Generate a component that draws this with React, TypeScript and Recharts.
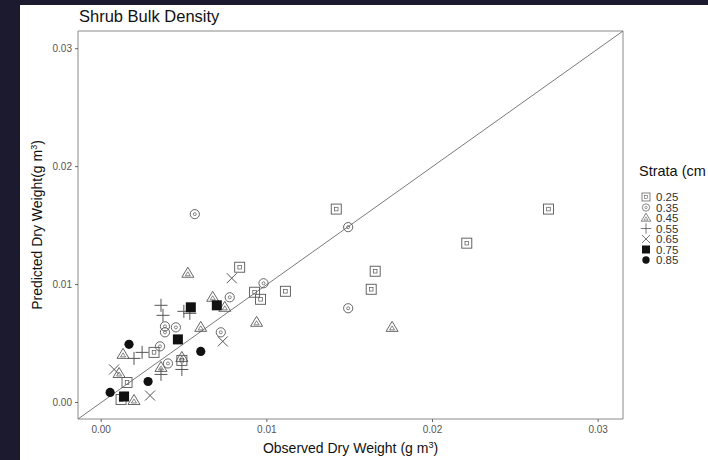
import React from "react";
import {
  ScatterChart,
  Scatter,
  XAxis,
  YAxis,
  ReferenceLine,
  ReferenceArea,
  Legend,
} from "recharts";

// ---- data (observed x, predicted y) per stratum ----
const strata25 = [
  { x: 0.01419, y: 0.0164 },
  { x: 0.027, y: 0.0164 },
  { x: 0.02207, y: 0.01351 },
  { x: 0.01654, y: 0.01113 },
  { x: 0.0163, y: 0.0096 },
  { x: 0.01112, y: 0.00943 },
  { x: 0.00926, y: 0.00935 },
  { x: 0.00962, y: 0.00875 },
  { x: 0.00836, y: 0.01147 },
  { x: 0.00319, y: 0.00425 },
  { x: 0.00156, y: 0.0017 },
  { x: 0.0012, y: 0.00025 },
  { x: 0.00487, y: 0.00357 },
];
const strata35 = [
  { x: 0.00565, y: 0.01597 },
  { x: 0.01491, y: 0.01487 },
  { x: 0.01491, y: 0.00799 },
  { x: 0.0098, y: 0.01011 },
  { x: 0.00776, y: 0.00892 },
  { x: 0.00385, y: 0.00646 },
  { x: 0.00451, y: 0.00637 },
  { x: 0.00385, y: 0.00595 },
  { x: 0.00722, y: 0.00595 },
  { x: 0.00355, y: 0.00476 },
  { x: 0.00403, y: 0.00331 },
];
const strata45 = [
  { x: 0.01756, y: 0.00637 },
  { x: 0.00523, y: 0.01096 },
  { x: 0.00673, y: 0.00892 },
  { x: 0.00746, y: 0.00807 },
  { x: 0.00601, y: 0.00637 },
  { x: 0.00938, y: 0.0068 },
  { x: 0.00132, y: 0.00408 },
  { x: 0.00487, y: 0.00382 },
  { x: 0.00361, y: 0.00297 },
  { x: 0.00108, y: 0.00246 },
  { x: 0.00198, y: 0.00017 },
];
const strata55 = [
  { x: 0.00361, y: 0.00824 },
  { x: 0.00373, y: 0.00739 },
  { x: 0.00535, y: 0.00756 },
  { x: 0.00499, y: 0.00773 },
  { x: 0.00247, y: 0.00425 },
  { x: 0.00198, y: 0.00374 },
  { x: 0.00487, y: 0.0028 },
  { x: 0.00361, y: 0.00238 },
];
const strata65 = [
  { x: 0.00788, y: 0.01054 },
  { x: 0.00734, y: 0.00518 },
  { x: 0.00078, y: 0.0028 },
  { x: 0.00295, y: 0.00059 },
];
const strata75 = [
  { x: 0.00541, y: 0.00807 },
  { x: 0.00698, y: 0.00824 },
  { x: 0.00463, y: 0.00535 },
  { x: 0.00138, y: 0.00051 },
];
const strata85 = [
  { x: 0.00168, y: 0.00493 },
  { x: 0.00601, y: 0.00433 },
  { x: 0.00283, y: 0.00178 },
  { x: 0.00054, y: 0.00085 },
];

const strataLabels = ["0.25", "0.35", "0.45", "0.55", "0.65", "0.75", "0.85"];
const legendTitle = "Strata (cm";
const axisTicks = [0, 0.01, 0.02, 0.03];
const DOMAIN: [number, number] = [-0.0014, 0.0315];

const FONT = "'Liberation Sans', Arial, Helvetica, sans-serif";
const OPEN = "#555555";
const FILL = "#111111";

// ---- marker shapes ----
const SquareMark = ({ cx, cy }: any) => (
  <g>
    <rect x={cx - 5} y={cy - 5} width={10} height={10} fill="none" stroke={OPEN} strokeWidth={0.9} />
    <rect x={cx - 1.8} y={cy - 1.8} width={3.6} height={3.6} fill="none" stroke={OPEN} strokeWidth={0.7} />
  </g>
);
const CircleMark = ({ cx, cy }: any) => (
  <g>
    <circle cx={cx} cy={cy} r={4.6} fill="none" stroke={OPEN} strokeWidth={0.9} />
    <circle cx={cx} cy={cy} r={1.5} fill="none" stroke={OPEN} strokeWidth={0.7} />
  </g>
);
const TriangleMark = ({ cx, cy }: any) => (
  <g>
    <path d={`M${cx},${cy - 6} L${cx + 6},${cy + 4} L${cx - 6},${cy + 4} Z`} fill="none" stroke={OPEN} strokeWidth={0.9} />
    <path d={`M${cx},${cy - 1.5} L${cx + 2.5},${cy + 2.5} L${cx - 2.5},${cy + 2.5} Z`} fill="none" stroke={OPEN} strokeWidth={0.7} />
  </g>
);
const PlusMark = ({ cx, cy }: any) => (
  <path d={`M${cx - 6.5},${cy} L${cx + 6.5},${cy} M${cx},${cy - 6.5} L${cx},${cy + 6.5}`} stroke={OPEN} strokeWidth={1} fill="none" />
);
const CrossMark = ({ cx, cy }: any) => (
  <path d={`M${cx - 5},${cy - 5} L${cx + 5},${cy + 5} M${cx - 5},${cy + 5} L${cx + 5},${cy - 5}`} stroke={OPEN} strokeWidth={1} fill="none" />
);
const FilledSquareMark = ({ cx, cy }: any) => (
  <rect x={cx - 5} y={cy - 5} width={10} height={10} fill={FILL} />
);
const FilledCircleMark = ({ cx, cy }: any) => <circle cx={cx} cy={cy} r={4.6} fill={FILL} />;

const markers = [SquareMark, CircleMark, TriangleMark, PlusMark, CrossMark, FilledSquareMark, FilledCircleMark];
const seriesData = [strata25, strata35, strata45, strata55, strata65, strata75, strata85];

const LegendContent = () => (
  <div style={{ fontFamily: FONT, whiteSpace: "nowrap" }}>
    <div style={{ fontSize: 14.5, color: "#111", height: 28, lineHeight: "17px" }}>{legendTitle}</div>
    <svg width={69} height={80}>
      {strataLabels.map((lab, i) => {
        const M = markers[i];
        const cy = 6 + i * 10.5;
        return (
          <g key={lab}>
            <g transform={`translate(7,${cy}) scale(0.8) translate(-7,${-cy})`}>
              <M cx={7} cy={cy} />
            </g>
            <text x={17} y={cy + 4} fontSize={11.5} fill="#333" fontFamily={FONT}>
              {lab}
            </text>
          </g>
        );
      })}
    </svg>
  </div>
);

const XTitle = ({ viewBox }: any) => {
  const cx = viewBox.x + viewBox.width / 2;
  return (
    <text x={cx} y={453} textAnchor="middle" fontSize={14} fill="#111" fontFamily={FONT}>
      Observed Dry Weight (g m
      <tspan dy={-5} fontSize={9}>3</tspan>
      <tspan dy={5}>)</tspan>
    </text>
  );
};

const YTitle = ({ viewBox }: any) => {
  const cy = viewBox.y + viewBox.height / 2;
  return (
    <text
      x={0}
      y={0}
      transform={`translate(42,${cy}) rotate(-90)`}
      textAnchor="middle"
      fontSize={14}
      fill="#111"
      fontFamily={FONT}
    >
      Predicted Dry Weight(g m
      <tspan dy={-5} fontSize={9}>3</tspan>
      <tspan dy={5}>)</tspan>
    </text>
  );
};

export default function App() {
  return (
    <div
      style={{
        position: "absolute",
        left: 0,
        top: 0,
        width: 708,
        height: 460,
        background: "#1b1a2e",
        overflow: "hidden",
      }}
    >
      <div
        style={{
          position: "absolute",
          left: 20,
          top: 5,
          width: 688,
          height: 455,
          background: "#ffffff",
        }}
      />
      <div
        style={{
          position: "absolute",
          left: 79,
          top: 7,
          fontFamily: FONT,
          fontSize: 16.5,
          color: "#111",
          whiteSpace: "nowrap",
        }}
      >
        Shrub Bulk Density
      </div>
      <div style={{ position: "absolute", left: 0, top: 0 }}>
        <ScatterChart width={708} height={460} margin={{ top: 31, right: 85, bottom: 11, left: 28 }}>
          <XAxis
            type="number"
            dataKey="x"
            domain={DOMAIN}
            ticks={axisTicks}
            allowDataOverflow
            tickFormatter={(v: number) => v.toFixed(2)}
            axisLine={false}
            tickLine={{ stroke: "#666" }}
            tickSize={3}
            tickMargin={4}
            height={30}
            tick={{ fontSize: 10, fill: "#555", fontFamily: FONT }}
            label={<XTitle />}
          />
          <YAxis
            type="number"
            dataKey="y"
            domain={DOMAIN}
            ticks={axisTicks}
            allowDataOverflow
            tickFormatter={(v: number) => v.toFixed(2)}
            axisLine={false}
            tickLine={{ stroke: "#666" }}
            tickSize={3}
            tickMargin={3}
            width={50}
            tick={{ fontSize: 10, fill: "#555", fontFamily: FONT }}
            label={<YTitle />}
          />
          <ReferenceArea
            x1={DOMAIN[0]}
            x2={DOMAIN[1]}
            y1={DOMAIN[0]}
            y2={DOMAIN[1]}
            fill="none"
            fillOpacity={0}
            stroke="#8a8a8a"
            strokeWidth={1}
            ifOverflow="visible"
          />
          <ReferenceLine
            segment={[
              { x: DOMAIN[0], y: DOMAIN[0] },
              { x: DOMAIN[1], y: DOMAIN[1] },
            ]}
            stroke="#7a7a7a"
            strokeWidth={1}
            ifOverflow="visible"
          />
          {seriesData.map((d, i) => (
            <Scatter
              key={strataLabels[i]}
              name={strataLabels[i]}
              data={d}
              shape={markers[i]}
              isAnimationActive={false}
            />
          ))}
          <Legend
            layout="vertical"
            align="center"
            verticalAlign="middle"
            content={<LegendContent />}
            wrapperStyle={{ left: 639, top: 163, width: 69, height: 115, overflow: "hidden" }}
          />
        </ScatterChart>
      </div>
    </div>
  );
}
